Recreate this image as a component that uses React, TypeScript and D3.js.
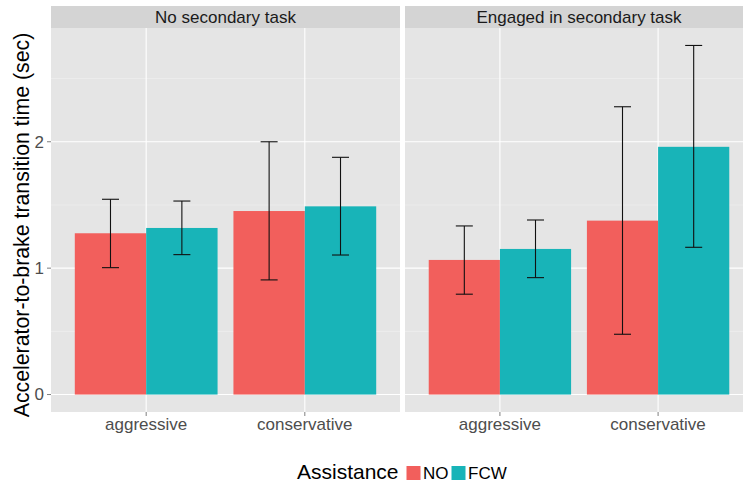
import React from "react";
import * as d3 from "d3";

// Facets, driving styles and assistance levels
const conditions = ["No secondary task", "Engaged in secondary task"];
const drivingStyles = ["aggressive", "conservative"];
const assistance = ["NO", "FCW"];

// Mean transition time per [style][assistance], with error bar limits
const meanNoTask = [[1.276, 1.318], [1.452, 1.489]];
const lowerNoTask = [[1.004, 1.107], [0.907, 1.104]];
const upperNoTask = [[1.545, 1.531], [2.0, 1.877]];

const meanEngaged = [[1.065, 1.152], [1.376, 1.96]];
const lowerEngaged = [[0.794, 0.925], [0.477, 1.165]];
const upperEngaged = [[1.334, 1.381], [2.277, 2.762]];

const yTicks = [0, 1, 2];
const yMinorTicks = [0.5, 1.5, 2.5];

const fillColors = ["#F25F5C", "#18B4B8"];

const W = 743;
const H = 487;
const FONT = "'Liberation Sans', Arial, Helvetica, sans-serif";

const panelTop = 28;
const panelBottom = 412;
const stripTop = 6;
const panelX = [
  [51, 400],
  [405, 753],
];

const means = [meanNoTask, meanEngaged];
const lowers = [lowerNoTask, lowerEngaged];
const uppers = [upperNoTask, upperEngaged];

export default function App() {
  const yMax = d3.max(uppers.flat(2)) as number;
  const pad = yMax * 0.05;
  const y = d3
    .scaleLinear()
    .domain([0 - pad, yMax + pad])
    .range([panelBottom, panelTop]);

  const color = d3.scaleOrdinal<string, string>().domain(assistance).range(fillColors);

  return (
    <svg
      width={W}
      height={H}
      style={{ position: "fixed", left: 0, top: 0, background: "#fff" }}
      fontFamily={FONT}
    >
      {conditions.map((cond, pi) => {
        const [x0, x1] = panelX[pi];
        const x = d3
          .scaleBand<string>()
          .domain(drivingStyles)
          .range([x0, x1])
          .paddingInner(0.1)
          .paddingOuter(0.15);
        const sub = d3
          .scaleBand<string>()
          .domain(assistance)
          .range([0, x.bandwidth()])
          .padding(0);
        const center = (s: string) => (x(s) as number) + x.bandwidth() / 2;
        const capHalf = 8.5;
        return (
          <g key={cond}>
            {/* strip */}
            <rect x={x0} y={stripTop} width={x1 - x0} height={panelTop - stripTop} fill="#d4d4d4" />
            <text
              x={(x0 + x1) / 2}
              y={23.3}
              textAnchor="middle"
              fontSize={17}
              fill="#1a1a1a"
            >
              {cond}
            </text>
            {/* panel background */}
            <rect x={x0} y={panelTop} width={x1 - x0} height={panelBottom - panelTop} fill="#e5e5e5" />
            {yMinorTicks.map((t) => (
              <line key={"mn" + t} x1={x0} x2={x1} y1={y(t)} y2={y(t)} stroke="#f2f2f2" strokeWidth={0.6} />
            ))}
            {yTicks.map((t) => (
              <line key={"mj" + t} x1={x0} x2={x1} y1={y(t)} y2={y(t)} stroke="#ffffff" strokeWidth={1.1} />
            ))}
            {drivingStyles.map((s) => (
              <line
                key={"vx" + s}
                x1={center(s)}
                x2={center(s)}
                y1={panelTop}
                y2={panelBottom}
                stroke="#ffffff"
                strokeWidth={1.1}
              />
            ))}
            {/* bars */}
            {drivingStyles.map((s, si) =>
              assistance.map((a, ai) => {
                const bx = (x(s) as number) + (sub(a) as number);
                const v = means[pi][si][ai];
                return (
                  <rect
                    key={s + a}
                    x={bx}
                    y={y(v)}
                    width={sub.bandwidth()}
                    height={y(0) - y(v)}
                    fill={color(a)}
                  />
                );
              })
            )}
            {/* error bars */}
            {drivingStyles.map((s, si) =>
              assistance.map((a, ai) => {
                const cx = (x(s) as number) + (sub(a) as number) + sub.bandwidth() / 2;
                const lo = y(lowers[pi][si][ai]);
                const hi = y(uppers[pi][si][ai]);
                return (
                  <g key={"e" + s + a} stroke="#111" strokeWidth={1.1}>
                    <line x1={cx} x2={cx} y1={hi} y2={lo} />
                    <line x1={cx - capHalf} x2={cx + capHalf} y1={hi} y2={hi} />
                    <line x1={cx - capHalf} x2={cx + capHalf} y1={lo} y2={lo} />
                  </g>
                );
              })
            )}
            {/* x axis ticks and labels */}
            {drivingStyles.map((s) => (
              <g key={"xt" + s}>
                <line
                  x1={center(s)}
                  x2={center(s)}
                  y1={panelBottom}
                  y2={panelBottom + 4}
                  stroke="#7f7f7f"
                  strokeWidth={1}
                />
                <text
                  x={center(s)}
                  y={429.5}
                  textAnchor="middle"
                  fontSize={17}
                  fill="#4d4d4d"
                >
                  {s}
                </text>
              </g>
            ))}
          </g>
        );
      })}

      {/* y axis */}
      {yTicks.map((t) => (
        <g key={"yt" + t}>
          <line x1={47} x2={51} y1={y(t)} y2={y(t)} stroke="#7f7f7f" strokeWidth={1} />
          <text x={44} y={y(t)} dy="0.35em" textAnchor="end" fontSize={17} fill="#4d4d4d">
            {t}
          </text>
        </g>
      ))}
      <text
        transform={`translate(28.5, ${(panelTop + panelBottom) / 2 + 5}) rotate(-90)`}
        textAnchor="middle"
        fontSize={21.3}
        fill="#000"
      >
        Accelerator-to-brake transition time (sec)
      </text>

      {/* legend */}
      <text x={297} y={479} fontSize={21} fill="#000">
        Assistance
      </text>
      {assistance.map((a, i) => {
        const kx = [406.5, 451.5][i];
        return (
          <g key={"lg" + a}>
            <rect x={kx} y={466} width={14} height={14} fill={color(a)} />
            <text x={kx + 16.5} y={479} fontSize={17} fill="#000">
              {a}
            </text>
          </g>
        );
      })}
    </svg>
  );
}
